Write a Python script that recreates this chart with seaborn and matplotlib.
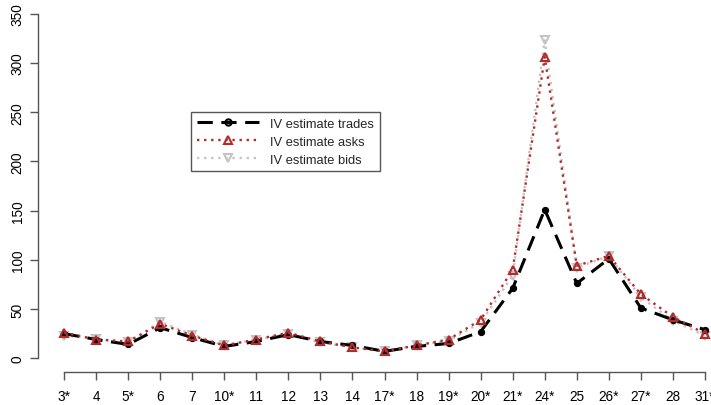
import matplotlib
matplotlib.use('Agg')
import matplotlib.pyplot as plt
import seaborn as sns
import pandas as pd
from matplotlib.lines import Line2D

days = ['3*', '4', '5*', '6', '7', '10*', '11', '12', '13', '14', '17*',
        '18', '19*', '20*', '21*', '24*', '25', '26*', '27*', '28', '31*']
trades = [25, 19, 14, 31, 21, 12, 17, 24, 17, 13, 7, 12, 15, 27, 71, 151, 76, 101, 51, 39, 29]
asks = [26, 19, 17, 35, 23, 13, 19, 26, 17, 11, 7, 13, 19, 39, 90, 306, 94, 104, 65, 42, 25]
bids = [23, 20, 16, 37, 24, 13, 19, 25, 16, 11, 7, 13, 18, 36, 84, 323, 92, 104, 62, 38, 23]

df = pd.DataFrame({'pos': range(1, len(days) + 1), 'day': days,
                   'trades': trades, 'asks': asks, 'bids': bids})

sns.set_style('white')
plt.rcParams['font.family'] = ['Liberation Sans', 'DejaVu Sans']

fig = plt.figure(figsize=(7.11, 4.06), dpi=100)
# plot region is wider than the picture: the right side is cut off as in the reference
ax = fig.add_axes([38.4 / 711, 33 / 406, 692.2 / 711, 372 / 406])

GREY = '#C4C4C4'
RED = '#B22A2A'
DASH = (0, (5, 2.8))
DOT = (0, (1, 2))

sns.lineplot(data=df, x='pos', y='bids', ax=ax, color=GREY, lw=1.7,
             linestyle=DOT, marker='v', markersize=5.5,
             markerfacecolor='none', markeredgecolor=GREY, markeredgewidth=1.5)
sns.lineplot(data=df, x='pos', y='trades', ax=ax, color='black', lw=2.2,
             linestyle=DASH, marker='o', markersize=4.5,
             markerfacecolor='black', markeredgecolor='black')
sns.lineplot(data=df, x='pos', y='asks', ax=ax, color=RED, lw=1.7,
             linestyle=DOT, marker='^', markersize=5.5,
             markerfacecolor='none', markeredgecolor=RED, markeredgewidth=1.5)

ax.set_xlim(0.2, 21.8)
ax.set_ylim(-14, 364)
ax.set_xlabel('')
ax.set_ylabel('')

ax.set_xticks(df['pos'])
ax.set_xticklabels(days)
ax.set_yticks(range(0, 351, 50))
for lab in ax.get_yticklabels():
    lab.set_rotation(90)
    lab.set_va('center')

for s in ['top', 'right']:
    ax.spines[s].set_visible(False)
ax.spines['left'].set_bounds(0, 350)
ax.spines['bottom'].set_bounds(1, 21)
for s in ['left', 'bottom']:
    ax.spines[s].set_color('#555555')
    ax.spines[s].set_linewidth(1)
ax.tick_params(axis='both', direction='out', length=6, width=1, color='#555555',
               labelsize=9.8, labelcolor='black', pad=4, bottom=True, left=True)
ax.tick_params(axis='x', pad=6)

handles = [
    Line2D([], [], color='black', lw=2.2, linestyle=DASH, marker='o',
           markersize=4.5, markerfacecolor='none', markeredgewidth=1.5),
    Line2D([], [], color=RED, lw=1.7, linestyle=DOT, marker='^',
           markersize=5.5, markerfacecolor='none', markeredgewidth=1.5),
    Line2D([], [], color=GREY, lw=1.7, linestyle=DOT, marker='v',
           markersize=5.5, markerfacecolor='none', markeredgewidth=1.5),
]
leg = ax.legend(handles, ['IV estimate trades', 'IV estimate asks', 'IV estimate bids'],
                loc='upper left', bbox_to_anchor=(0.2205, 0.699), borderaxespad=0,
                fontsize=9.3, fancybox=False, framealpha=1, handlelength=4.85,
                handletextpad=0.8, labelspacing=0.45, borderpad=0.45)
leg.get_frame().set_edgecolor('#555555')
leg.get_frame().set_linewidth(1)

fig.savefig('out.png', dpi=100)
